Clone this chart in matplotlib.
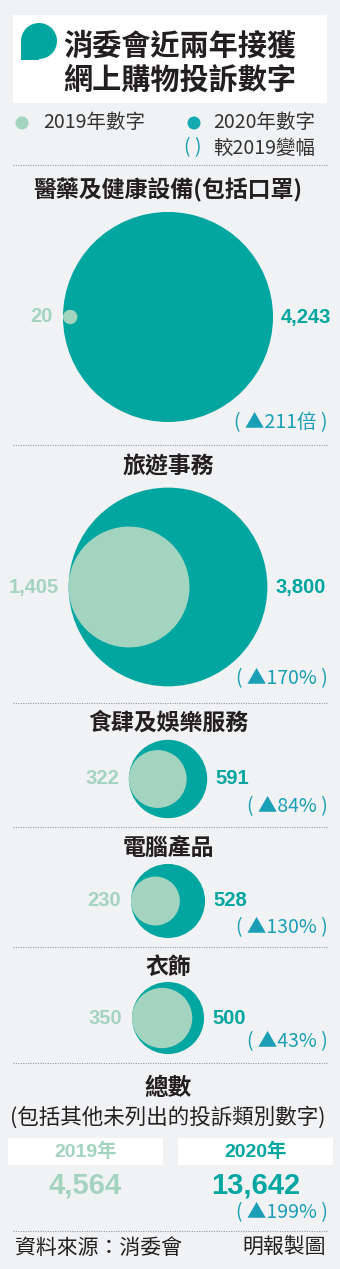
import matplotlib
matplotlib.use("Agg")
import matplotlib.pyplot as plt
from matplotlib.patches import Circle, Rectangle
import numpy as np

# ---- data ----
categories = ["醫藥及健康設備(包括口罩)", "旅遊事務", "食肆及娛樂服務", "電腦產品", "衣飾"]
count_2019 = [20, 1405, 322, 230, 350]
count_2020 = [4243, 3800, 591, 528, 500]
change_labels = ["211倍", "170%", "84%", "130%", "43%"]
total_2019 = 4564
total_2020 = 13642
total_change = "199%"

# ---- style ----
BG = "#f1f2f4"
TEAL = "#00a69f"
LIGHT = "#a3d4c0"
CHG = "#1a9fb6"
INK = "#231f20"
CJK = ["Noto Sans CJK TC", "DejaVu Sans"]
NUM = ["Liberation Sans", "Noto Sans CJK TC", "DejaVu Sans"]

# layout (pixel space, y down)
W, H = 340, 1269
title_ys = [190, 467, 723, 848, 967]
center_ys = [317, 587, 779, 901, 1018]
change_ys = [423, 679, 807, 928, 1042]
divider_ys = [165, 445, 703, 827, 947, 1063, 1231]
CX = 168
R_MAX = 105          # radius for the largest 2020 value
v_max = max(count_2020)


def radius(v):
    # area-proportional circles
    return R_MAX * np.sqrt(v / v_max)


def change_text(s):
    return f"( ▲{s} )"


fig = plt.figure(figsize=(W / 100, H / 100), dpi=100, facecolor=BG)
ax = fig.add_axes([0, 0, 1, 1])
ax.set_xlim(0, W)
ax.set_ylim(H, 0)
ax.axis("off")
ax.set_facecolor(BG)

# header box + speech bubble
ax.add_patch(Rectangle((13, 15), 314, 88, facecolor="white", edgecolor="none"))
ax.add_patch(Circle((39, 41), 18, facecolor=TEAL, edgecolor="none"))
ax.add_patch(Rectangle((21, 41), 18, 19, facecolor=TEAL, edgecolor="none"))
ax.text(63, 45, "消委會近兩年接獲", family=CJK, fontsize=21, fontweight="bold",
        color=INK, va="center", ha="left")
ax.text(63, 80, "網上購物投訴數字", family=CJK, fontsize=21, fontweight="bold",
        color=INK, va="center", ha="left")

# legend
ax.add_patch(Circle((22, 123), 6.5, facecolor=LIGHT, edgecolor="none"))
ax.text(43, 123, "2019年數字", family=CJK, fontsize=14, color="#333333",
        va="center", ha="left")
ax.add_patch(Circle((194, 123), 6.5, facecolor="#12aab0", edgecolor="none"))
ax.text(213, 123, "2020年數字", family=CJK, fontsize=14, color="#333333",
        va="center", ha="left")
ax.text(193, 148, "( )", family=CJK, fontsize=14, color=CHG,
        va="center", ha="center")
ax.text(213, 148, "較2019變幅", family=CJK, fontsize=14, color="#333333",
        va="center", ha="left")

# dotted separators
for y in divider_ys:
    ax.plot([13, 327], [y, y], color="#9a9a9a", lw=0.8, ls=(0, (1, 1.2)))

# one block per category
for name, v19, v20, chg, ty, cy, chy in zip(categories, count_2019, count_2020,
                                            change_labels, title_ys, center_ys,
                                            change_ys):
    ax.text(CX, ty, name, family=CJK, fontsize=16.5, fontweight="heavy",
            color=INK, va="center", ha="center")
    R = radius(v20)
    r = radius(v19)
    ax.add_patch(Circle((CX, cy), R, facecolor=TEAL, edgecolor="none"))
    ax.add_patch(Circle((CX - R + r, cy), r, facecolor=LIGHT, edgecolor="none"))
    ax.text(CX - R - 10, cy, f"{v19:,}", family=NUM, fontsize=14.5,
            fontweight="bold", color=LIGHT, va="center", ha="right")
    ax.text(CX + R + 8, cy, f"{v20:,}", family=NUM, fontsize=14.5,
            fontweight="bold", color=TEAL, va="center", ha="left")
    ax.text(328, chy, change_text(chg), family=CJK, fontsize=14, color=CHG,
            va="center", ha="right")

# totals
ax.text(CX, 1088, "總數", family=CJK, fontsize=17, fontweight="heavy",
        color=INK, va="center", ha="center")
ax.text(CX, 1117, "(包括其他未列出的投訴類別數字)", family=CJK, fontsize=15.5,
        color=INK, va="center", ha="center")
for x0, year, val, col in [(8, "2019年", total_2019, LIGHT),
                           (178, "2020年", total_2020, TEAL)]:
    ax.add_patch(Rectangle((x0, 1138), 155, 27, facecolor="white", edgecolor="none"))
    ax.text(x0 + 77.5, 1152, year, family=NUM, fontsize=14, fontweight="bold",
            color=col, va="center", ha="center")
    ax.text(x0 + 77.5, 1186, f"{val:,}", family=NUM, fontsize=21,
            fontweight="bold", color=col, va="center", ha="center")
ax.text(328, 1213, change_text(total_change), family=CJK, fontsize=14,
        color=CHG, va="center", ha="right")

# footer
ax.text(15, 1248, "資料來源：消委會", family=CJK, fontsize=15, color=INK,
        va="center", ha="left")
ax.text(326, 1248, "明報製圖", family=CJK, fontsize=15, color=INK,
        va="center", ha="right")

fig.savefig("out.png", dpi=100, facecolor=BG)
